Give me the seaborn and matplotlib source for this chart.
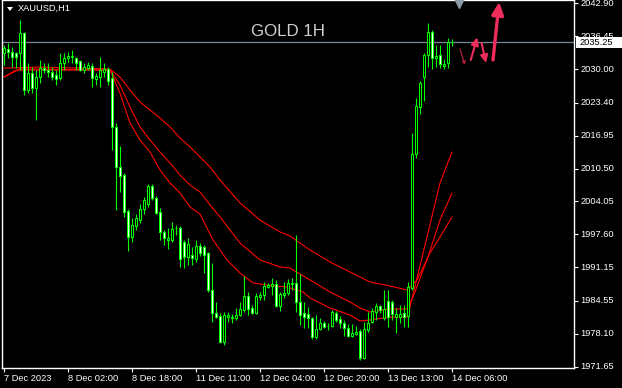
import numpy as np
import pandas as pd
import matplotlib
matplotlib.use("Agg")
import matplotlib.pyplot as plt
import matplotlib.transforms as mtransforms
from matplotlib.patches import Rectangle, Polygon
import seaborn as sns

sns.set_style("dark")
plt.rcParams['font.family'] = ['Liberation Sans', 'DejaVu Sans']

# ---------------- data (XAUUSD H1 candles) ----------------
opens = [
    2033.2, 2033.9, 2033.4, 2033.2, 2033.2, 2037.1, 2025.9, 2029.2, 2026.3, 2028.5,
    2030.2, 2029.8, 2029.4, 2028.8, 2028.3, 2031.2, 2032.2, 2032.4, 2032.2, 2031.6,
    2029.8, 2030.2, 2030.6, 2028.1, 2028.5, 2029.4, 2030.0, 2028.3, 2018.7, 2010.8,
    2009.2, 2002.2, 1997.1, 1999.2, 2000.4, 2002.6, 2003.6, 2007.1, 2004.7, 2002.0,
    1998.1, 1996.5, 1996.5, 1998.8, 1998.8, 1996.1, 1993.2, 1993.6, 1992.8, 1995.3,
    1995.1, 1993.9, 1986.7, 1982.2, 1981.6, 1976.5, 1981.4, 1981.4, 1981.2, 1981.8,
    1982.8, 1985.5, 1983.2, 1982.2, 1985.3, 1985.7, 1987.3, 1987.5, 1987.9, 1983.6,
    1985.7, 1986.1, 1987.9, 1988.1, 1984.3, 1982.2, 1982.0, 1981.2, 1977.5, 1979.0,
    1980.2, 1979.6, 1979.6, 1982.2, 1981.0, 1980.2, 1979.2, 1977.7, 1978.1, 1978.7,
    1973.4, 1978.8, 1980.4, 1982.4, 1983.6, 1981.2, 1984.5, 1984.3, 1981.4, 1981.4,
    1982.2, 1981.6, 1987.1, 2013.4, 2022.6, 2028.5, 2032.8, 2037.3, 2032.2, 2032.8,
    2030.6, 2031.2, 2035.3]
highs = [
    2034.7, 2035.1, 2034.3, 2033.4, 2039.6, 2037.3, 2031.2, 2030.4, 2029.8, 2031.8,
    2031.2, 2031.2, 2030.4, 2029.8, 2033.2, 2033.2, 2033.4, 2033.8, 2032.4, 2031.8,
    2031.2, 2031.4, 2031.2, 2029.2, 2032.4, 2031.2, 2030.4, 2029.4, 2019.4, 2014.9,
    2009.6, 2002.6, 2000.8, 2001.6, 2003.6, 2004.9, 2007.5, 2007.5, 2005.1, 2002.8,
    1998.5, 1998.8, 2000.0, 1999.4, 1999.2, 1996.5, 1996.9, 1995.1, 1996.5, 1995.9,
    1995.5, 1994.1, 1992.0, 1984.3, 1982.2, 1982.4, 1982.4, 1982.0, 1983.2, 1984.3,
    1989.4, 1986.3, 1983.8, 1986.1, 1986.3, 1988.2, 1988.0, 1989.1, 1988.7, 1986.3,
    1988.2, 1988.9, 1989.1, 1997.5, 1989.8, 1984.3, 1983.4, 1981.4, 1981.8, 1981.2,
    1980.6, 1980.2, 1982.8, 1982.6, 1981.6, 1980.8, 1980.0, 1980.0, 1979.6, 1979.0,
    1980.4, 1982.4, 1983.2, 1984.1, 1983.8, 1986.7, 1986.7, 1984.7, 1983.2, 1983.8,
    1983.8, 1988.2, 2017.5, 2024.3, 2027.7, 2033.2, 2039.0, 2037.7, 2034.7, 2034.7,
    2032.0, 2036.1, 2035.9]
lows = [
    2030.8, 2032.2, 2030.4, 2030.2, 2029.8, 2024.9, 2025.3, 2025.3, 2020.0, 2027.3,
    2029.2, 2028.5, 2027.9, 2026.9, 2027.9, 2029.8, 2031.4, 2031.2, 2029.8, 2029.6,
    2029.2, 2029.8, 2026.5, 2026.9, 2026.5, 2028.5, 2026.9, 2014.1, 2002.4, 2005.9,
    2001.0, 1994.3, 1996.1, 1998.5, 1999.8, 2001.6, 2003.0, 2004.3, 2001.6, 1996.5,
    1995.5, 1994.7, 1996.1, 1997.5, 1991.2, 1991.0, 1991.6, 1991.6, 1992.2, 1993.4,
    1990.0, 1986.3, 1980.4, 1981.2, 1976.3, 1975.9, 1980.4, 1980.2, 1980.8, 1981.6,
    1982.4, 1981.8, 1982.0, 1982.0, 1984.7, 1984.7, 1987.1, 1985.7, 1983.4, 1982.6,
    1985.1, 1985.7, 1986.7, 1982.4, 1979.8, 1979.2, 1979.2, 1977.1, 1977.1, 1978.8,
    1979.2, 1978.8, 1979.4, 1980.4, 1979.2, 1977.7, 1977.5, 1977.5, 1977.9, 1973.0,
    1973.2, 1978.5, 1980.2, 1980.8, 1982.2, 1980.8, 1979.4, 1980.8, 1978.3, 1980.2,
    1979.4, 1979.4, 1986.7, 2012.6, 2021.2, 2023.7, 2030.4, 2030.0, 2030.4, 2030.2,
    2030.0, 2030.2, 2034.5]
closes = [
    2034.1, 2033.4, 2032.4, 2032.4, 2037.1, 2025.9, 2029.2, 2026.3, 2028.5, 2030.2,
    2029.8, 2029.4, 2028.5, 2028.1, 2031.2, 2032.2, 2032.6, 2032.6, 2031.2, 2029.8,
    2030.4, 2030.8, 2028.3, 2028.6, 2029.8, 2030.0, 2027.7, 2018.7, 2010.8, 2009.0,
    2002.0, 1997.1, 1999.4, 2000.8, 2002.6, 2004.3, 2007.1, 2004.7, 2001.8, 1998.1,
    1996.9, 1996.9, 1998.7, 1998.9, 1992.8, 1993.2, 1995.7, 1993.0, 1995.3, 1993.9,
    1993.6, 1986.7, 1982.2, 1981.4, 1976.5, 1981.8, 1981.8, 1981.2, 1981.8, 1983.0,
    1985.5, 1983.0, 1982.2, 1985.5, 1985.7, 1987.5, 1987.7, 1987.9, 1983.6, 1985.9,
    1986.1, 1988.1, 1988.1, 1984.3, 1981.8, 1981.4, 1981.2, 1977.5, 1979.0, 1980.2,
    1979.4, 1979.6, 1982.4, 1980.8, 1980.2, 1979.2, 1977.7, 1978.3, 1978.5, 1973.4,
    1979.0, 1980.2, 1982.6, 1983.6, 1982.8, 1983.0, 1981.4, 1982.0, 1982.0, 1982.0,
    1981.4, 1987.3, 2013.4, 2022.8, 2027.3, 2032.8, 2037.3, 2032.2, 2032.6, 2031.0,
    2031.0, 2035.3, 2035.25]

# moving-average style lines (bar index, price)
ma_slow_x = [1, 10, 20, 27.5, 30, 32.5, 35, 37.5, 40, 42.5, 45, 47.5, 50, 52.5, 55,
             60, 65, 70, 72.5, 77.5, 82.5, 87.5, 92.5, 97.5, 101.75, 104.25, 107.5, 110, 113]
ma_slow_y = [2030.2, 2030.4, 2030.2, 2030.0, 2028.45, 2025.9, 2023.55, 2021.98, 2020.41,
             2018.65, 2016.49, 2014.73, 2012.77, 2010.8, 2008.26, 2003.75, 2000.41, 1998.06,
             1997.27, 1994.53, 1992.18, 1990.22, 1988.26, 1987.47, 1986.69, 1988.65, 1993.94,
             1997.08, 2001.0]
ma_mid_x = [1, 5, 27.5, 30, 32.5, 35, 37.5, 40, 42.5, 45, 47.5, 50, 52.5, 55, 60, 65, 70,
            72.5, 77.5, 82.5, 87.5, 90, 92.5, 97.5, 101.75, 103.25, 106.75, 110, 113]
ma_mid_y = [2028.45, 2030.02, 2029.82, 2026.88, 2022.57, 2018.65, 2016.1, 2013.75, 2011.59,
            2009.24, 2007.27, 2005.9, 2003.35, 2001.0, 1995.9, 1992.57, 1991.2, 1991.0,
            1988.65, 1986.3, 1984.33, 1983.16, 1982.37, 1982.96, 1982.96, 1985.31, 1992.57,
            2000.41, 2005.71]
ma_fast_x = [1, 4, 27.5, 30, 32.5, 35, 37.5, 40, 42.5, 45, 47.5, 50, 53.25, 56.75, 60, 63.25,
             66.75, 71.75, 75.75, 77.5, 82.5, 87.5, 90, 92.5, 97.5, 101.75, 102.5, 106.75, 110, 113]
ma_fast_y = [2028.45, 2029.82, 2029.82, 2025.31, 2019.43, 2016.1, 2013.75, 2010.22, 2007.67,
             2005.71, 2002.96, 2001.59, 1996.49, 1992.57, 1990.02, 1988.06, 1987.67, 1987.27,
             1986.3, 1985.12, 1983.16, 1981.78, 1980.61, 1980.81, 1981.39, 1981.39, 1983.35,
             1997.08, 2007.67, 2013.75]

# drawn arrows: (x0, y0, x1, y1) in bar index / price
thin_line = (115.0, 2033.94, 116.25, 2030.8)
arrow_up1 = (117.7, 2031.79, 119.3, 2036.23)
arrow_down = (120.4, 2035.12, 121.5, 2031.2)
arrow_up2 = (123.25, 2031.79, 124.8, 2043.2)

time_ticks = [1, 17, 33, 49, 65, 81, 97, 113]
time_labels = ["7 Dec 2023", "8 Dec 02:00", "8 Dec 18:00", "11 Dec 11:00",
               "12 Dec 04:00", "12 Dec 20:00", "13 Dec 13:00", "14 Dec 06:00"]
price_ticks = [2042.90, 2036.45, 2030.00, 2023.40, 2016.95, 2010.50, 2004.05,
               1997.60, 1991.15, 1984.55, 1978.10, 1971.65]
last_price = 2035.25
symbol_label = "XAUUSD,H1"
title_text = "GOLD 1H"

# ---------------- figure ----------------
W, H = 622, 388
fig = plt.figure(figsize=(W / 100, H / 100), dpi=100, facecolor="black")
ax = fig.add_axes([2 / W, (H - 368) / H, 572 / W, 368 / H])
ax.set_facecolor("black")

n = min(len(opens), len(highs), len(lows), len(closes))
df = pd.DataFrame({"idx": np.arange(1, n + 1), "o": opens[:n], "h": highs[:n],
                   "l": lows[:n], "c": closes[:n]})
green = "#00ff00"

ax.axhline(last_price, color="#778899", lw=0.9, zorder=1)

ax.vlines(df["idx"], df["l"], df["h"], color=green, lw=0.8, zorder=3)
body_bottom = np.minimum(df["o"], df["c"])
body_h = np.maximum(np.abs(df["c"] - df["o"]), 0.12)
faces = np.where(df["c"] >= df["o"], "black", "white")
ax.bar(df["idx"], body_h, bottom=body_bottom, width=0.6, color=faces,
       edgecolor=green, linewidth=0.75, zorder=4)

for xs, ys in [(ma_slow_x, ma_slow_y), (ma_mid_x, ma_mid_y), (ma_fast_x, ma_fast_y)]:
    sns.lineplot(x=xs, y=ys, ax=ax, color="#ff0000", lw=0.8, sort=False,
                 estimator=None, zorder=2)

# arrows
def draw_arrow(seg, color, lw, hl, hw):
    x0, y0, x1, y1 = seg
    ax.annotate("", xy=(x1, y1), xytext=(x0, y0),
                arrowprops=dict(arrowstyle=f"-|>,head_length={hl},head_width={hw}",
                                color=color, lw=lw, shrinkA=0, shrinkB=0),
                zorder=6, annotation_clip=False)

draw_arrow(thin_line, "#b01c3c", 0.9, 0.2, 0.1)
draw_arrow(arrow_up1, "#ee2c5c", 1.5, 0.45, 0.22)
draw_arrow(arrow_down, "#ee2c5c", 1.5, 0.45, 0.22)
draw_arrow(arrow_up2, "#ee2c5c", 2.4, 0.75, 0.35)

# shift marker at top
trans = mtransforms.blended_transform_factory(ax.transData, ax.transAxes)
ax.plot([114.75], [1 - 3 / 368], marker="v", color="#8c9aa8", markersize=7,
        transform=trans, clip_on=False, zorder=7)

ax.set_xlim(0.5, 143.5)
ax.set_ylim(1971.39, 2043.55)

ax.set_xticks(time_ticks)
ax.set_xticklabels(time_labels, ha="left")
ax.yaxis.tick_right()
ax.set_yticks(price_ticks)
ax.set_yticklabels([f"{v:.2f}" for v in price_ticks], va="center")
for lab in ax.get_yticklabels():
    lab.set_horizontalalignment("left")
ax.tick_params(axis="x", colors="white", labelcolor="white", labelsize=6.7,
               length=3, width=0.8, pad=1.5, direction="out", bottom=True)
ax.tick_params(axis="y", colors="white", labelcolor="white", labelsize=6.7,
               length=3, width=0.8, pad=1.5, direction="out", right=True, left=False)
ax.set_xlabel("")
ax.set_ylabel("")
ax.grid(False)
for s in ["left", "right", "top", "bottom"]:
    ax.spines[s].set_visible(True)
    ax.spines[s].set_color("white")
    ax.spines[s].set_linewidth(1.0)

# texts
ax.text(0.5, 1 - 31 / 368, title_text, transform=ax.transAxes, color="#cfcfcf",
        fontsize=12.2, ha="center", va="center")
fig.text(18 / W, 1 - 8.5 / H, symbol_label, color="white", fontsize=6.7,
         ha="left", va="center")
tri = Polygon([[7 / W, 1 - 7 / H], [13 / W, 1 - 7 / H], [10 / W, 1 - 11 / H]],
              closed=True, transform=fig.transFigure, facecolor="white",
              edgecolor="none", zorder=10)
fig.patches.append(tri)

# last-price box on the price scale
box = Rectangle((576 / W, (H - 48) / H), 46 / W, 11.5 / H, transform=fig.transFigure,
                facecolor="white", edgecolor="none", zorder=10)
fig.patches.append(box)
fig.text(580 / W, (H - 42.3) / H, f"{last_price:.2f}", color="black", fontsize=6.7,
         ha="left", va="center", zorder=11)

fig.savefig("out.png", dpi=100, facecolor="black")
